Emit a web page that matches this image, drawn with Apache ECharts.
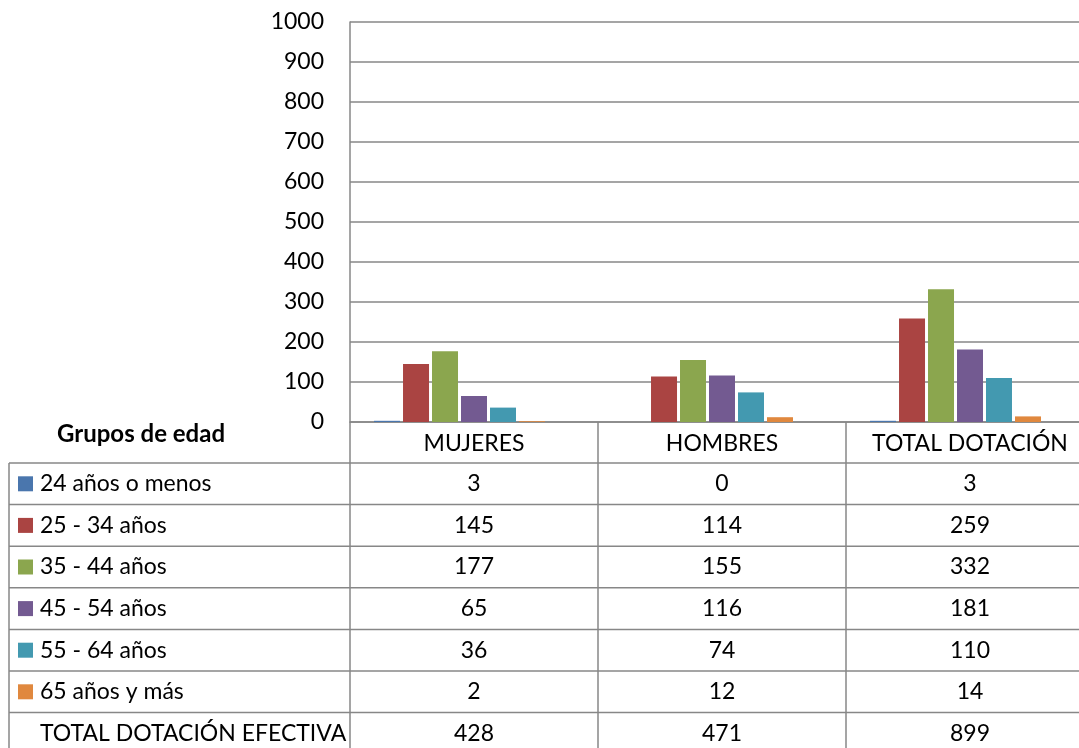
<!DOCTYPE html>
<html>
<head>
<meta charset="utf-8">
<script src="https://cdn.jsdelivr.net/npm/echarts@6/dist/echarts.min.js"></script>
<style>
  html, body { margin: 0; padding: 0; background: #fff; overflow: hidden; }
</style>
</head>
<body>
<!-- el gráfico original sigue más allá del borde derecho -->
<div id="chart" style="width:1094px; height:748px;"></div>
<script>
// datos del gráfico
const categories = ['MUJERES', 'HOMBRES', 'TOTAL DOTACIÓN'];
const groups = ['24 años o menos', '25 - 34 años', '35 - 44 años', '45 - 54 años', '55 - 64 años', '65 años y más'];
const edad24 = [3, 0, 3];
const edad25 = [145, 114, 259];
const edad35 = [177, 155, 332];
const edad45 = [65, 116, 181];
const edad55 = [36, 74, 110];
const edad65 = [2, 12, 14];
const totalLabel = 'TOTAL DOTACIÓN EFECTIVA';
const totals = [428, 471, 899];
const yTicks = [0, 100, 200, 300, 400, 500, 600, 700, 800, 900, 1000];

const rows = [edad24, edad25, edad35, edad45, edad55, edad65];
const colors = ['#4A76AD', '#AA4442', '#8BA64E', '#735A91', '#4399B0', '#E0883E'];
const font = 'Lato, Calibri, "Open Sans", sans-serif';
const lineColor = '#878787';

const chartDom = document.getElementById('chart');
const myChart = echarts.init(chartDom);

const series = rows.map((r, i) => ({
  name: groups[i],
  type: 'bar',
  data: r,
  barWidth: 26,
  barGap: '11.5%',
  itemStyle: { color: colors[i] },
  silent: true
}));
// la fila total ocupa su lugar en el grupo pero no se ve
series.push({
  name: totalLabel,
  type: 'bar',
  data: totals,
  barWidth: 26,
  barGap: '11.5%',
  itemStyle: { color: 'rgba(0,0,0,0)' },
  silent: true
});

const option = {
  animation: false,
  textStyle: { fontFamily: font },
  grid: { left: 350, top: 22, width: 744, height: 400 },
  xAxis: {
    type: 'category',
    data: categories,
    axisTick: { show: false },
    axisLine: { lineStyle: { color: lineColor, width: 1.5 } },
    axisLabel: { color: '#000', fontSize: 23, margin: 10, interval: 0, fontFamily: font }
  },
  yAxis: {
    type: 'value',
    min: yTicks[0],
    max: yTicks[yTicks.length - 1],
    interval: 100,
    axisLine: { show: true, lineStyle: { color: lineColor, width: 1.5 } },
    axisTick: { show: false },
    splitLine: { lineStyle: { color: lineColor, width: 1.5 } },
    axisLabel: { color: '#000', fontSize: 23, margin: 26, fontFamily: font, formatter: v => String(v) }
  },
  series: series
};

myChart.setOption(option);

// tabla de datos debajo del gráfico
const rowTop = 463;
const rowH = 41.6;
const tableRows = rows.map((r, i) => ({ label: groups[i], color: colors[i], values: r }));
tableRows.push({ label: totalLabel, color: null, values: totals });

const centers = categories.map(c => myChart.convertToPixel({ xAxisIndex: 0 }, c));
const band = centers[1] - centers[0];
const g = [];
const line = (x1, y1, x2, y2) => g.push({
  type: 'line', silent: true,
  shape: { x1: x1, y1: y1, x2: x2, y2: y2 },
  style: { stroke: lineColor, lineWidth: 1.5 }
});

// bordes horizontales
for (let i = 0; i < tableRows.length; i++) {
  line(9, rowTop + i * rowH, 1094, rowTop + i * rowH);
}
// bordes verticales
line(9, rowTop, 9, 760);
line(350, 422, 350, 760);
for (let j = 1; j < categories.length; j++) {
  const x = centers[j] - band / 2;
  line(x, 422, x, 760);
}

g.push({
  type: 'text', silent: true,
  style: { text: 'Grupos de edad', x: 141, y: 434, align: 'center', verticalAlign: 'middle',
    font: 'bold 24px ' + font, fill: '#000' }
});

tableRows.forEach((row, i) => {
  const cy = rowTop + i * rowH + rowH / 2;
  if (row.color) {
    g.push({ type: 'rect', silent: true, shape: { x: 18, y: cy - 7.5, width: 15, height: 15 },
      style: { fill: row.color } });
  }
  g.push({ type: 'text', silent: true,
    style: { text: row.label, x: 40, y: cy, verticalAlign: 'middle', font: '23px ' + font, fill: '#000' } });
  row.values.forEach((v, j) => {
    g.push({ type: 'text', silent: true,
      style: { text: String(v), x: centers[j], y: cy, align: 'center', verticalAlign: 'middle',
        font: '23px ' + font, fill: '#000' } });
  });
});

myChart.setOption({ graphic: g });
</script>
</body>
</html>
